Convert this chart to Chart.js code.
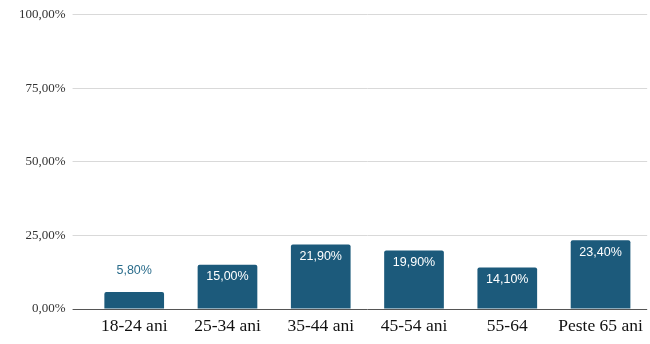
<!DOCTYPE html>
<html>
<head>
<meta charset="utf-8">
<script src="https://cdn.jsdelivr.net/npm/chart.js@4"></script>
<style>
  html, body { margin: 0; padding: 0; background: #fff; }
  #wrap { width: 650px; height: 344px; }
</style>
</head>
<body>
<div id="wrap"><canvas id="myChart"></canvas></div>
<script>
// categorii si valori (procente)
var categorii = ['18-24 ani', '25-34 ani', '35-44 ani', '45-54 ani', '55-64', 'Peste 65 ani'];
var valori = [5.8, 15.0, 21.9, 19.9, 14.1, 23.4];
var tickuriY = [0, 25, 50, 75, 100];

var culoareBara = '#1c5a7b';

function procent(v) {
    return v.toFixed(2).replace('.', ',') + '%';
}

function culoareGrila(c) {
    return c.tick && c.tick.value === 0 ? '#555555' : '#d9d9d9';
}

// etichete pe bare: in interior, sau deasupra daca bara e prea mica
var eticheteBare = {
    id: 'eticheteBare',
    afterDatasetsDraw: function (chart) {
        var ctx = chart.ctx;
        var meta = chart.getDatasetMeta(0);
        ctx.save();
        ctx.font = '12.5px "Liberation Sans", Arial, sans-serif';
        ctx.textAlign = 'center';
        ctx.textBaseline = 'middle';
        meta.data.forEach(function (bar, i) {
            var h = bar.base - bar.y;
            if (h < 30) {
                ctx.fillStyle = '#2b6d8c';
                ctx.fillText(procent(valori[i]), bar.x, bar.y - 21);
            } else {
                ctx.fillStyle = '#ffffff';
                ctx.fillText(procent(valori[i]), bar.x, bar.y + 12);
            }
        });
        ctx.restore();
    }
};

var ctx = document.getElementById('myChart').getContext('2d');
var myChart = new Chart(ctx, {
    type: 'bar',
    data: {
        labels: categorii,
        datasets: [{
            data: valori,
            backgroundColor: culoareBara,
            borderRadius: { topLeft: 2, topRight: 2 },
            borderSkipped: 'bottom',
            categoryPercentage: 0.8,
            barPercentage: 0.8
        }]
    },
    options: {
        responsive: true,
        maintainAspectRatio: false,
        animation: false,
        layout: { padding: { top: 9, right: 2, left: 12, bottom: 0 } },
        plugins: {
            legend: { display: false },
            tooltip: { enabled: false }
        },
        scales: {
            x: {
                grid: { display: false, drawTicks: false },
                border: { display: false },
                ticks: {
                    color: '#111111',
                    padding: 7,
                    font: { family: '"Liberation Serif", "Times New Roman", serif', size: 17.5 }
                }
            },
            y: {
                min: 0,
                max: 100,
                afterBuildTicks: function (axis) {
                    axis.ticks = tickuriY.map(function (v) { return { value: v }; });
                },
                grid: {
                    color: culoareGrila,
                    lineWidth: 1,
                    drawTicks: true,
                    tickLength: 15,
                    tickColor: culoareGrila
                },
                border: { display: false },
                ticks: {
                    color: '#333333',
                    padding: 7,
                    font: { family: '"Liberation Serif", "Times New Roman", serif', size: 13 },
                    callback: function (v) { return procent(v); }
                }
            }
        }
    },
    plugins: [eticheteBare]
});
</script>
</body>
</html>
